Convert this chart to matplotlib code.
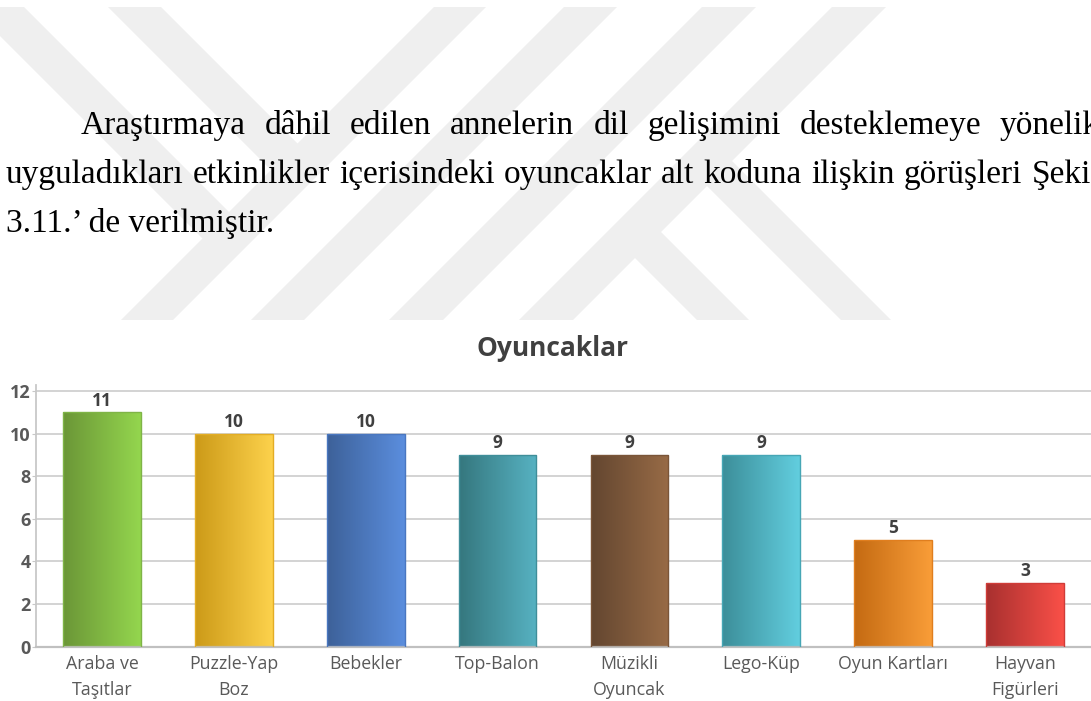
import numpy as np
import matplotlib.pyplot as plt
from matplotlib.patches import Polygon
from matplotlib.colors import LinearSegmentedColormap

W, H = 1091, 701

# --- data ---
categories = ["Araba ve\nTaşıtlar", "Puzzle-Yap\nBoz", "Bebekler", "Top-Balon",
              "Müzikli\nOyuncak", "Lego-Küp", "Oyun Kartları", "Hayvan\nFigürleri"]
values = [11, 10, 10, 9, 9, 9, 5, 3]
yticks = [0, 2, 4, 6, 8, 10, 12]
title = "Oyuncaklar"

paragraph = [
    "Araştırmaya dâhil edilen annelerin dil gelişimini desteklemeye yönelik",
    "uyguladıkları etkinlikler içerisindeki oyuncaklar alt koduna ilişkin görüşleri Şekil",
    "3.11.’ de verilmiştir.",
]

# gradient colours of the bars (left -> right) and their outlines
left_colors = ["#6b9637", "#cc9a18", "#3d6199", "#35777e", "#634630", "#3c8e99", "#c46a12", "#a8302f"]
right_colors = ["#94d64e", "#fdd24c", "#5b8ede", "#57b2c2", "#986b46", "#62cedf", "#f99d38", "#fa5048"]
edge_colors = ["#7fb447", "#e3ad24", "#4a77c0", "#3f8e99", "#7a5538", "#46a6b5", "#e07e1e", "#d03c38"]

fig = plt.figure(figsize=(W / 100, H / 100), dpi=100)

# --- background: watermark + paragraph (pixel coordinates) ---
bg = fig.add_axes([0, 0, 1, 1])
bg.set_xlim(0, W)
bg.set_ylim(H, 0)
bg.axis('off')

wm_color = '#efefef'
y_top, y_bot = 7, 320
c_mid, f_mid = 467, 866   # x+y of the lines where the short bands stop / start
# down-left bands (x+y between d1 and d2), full height
for d1, d2 in [(441, 493), (571, 624), (709, 763), (839, 893)]:
    bg.add_patch(Polygon([(d1 - y_top, y_top), (d2 - y_top, y_top),
                          (d2 - y_bot, y_bot), (d1 - y_bot, y_bot)],
                         closed=True, fc=wm_color, ec='none', zorder=0))
# down-right bands from the top, ending on the first down-left band
for c1, c2 in [(-36, 17), (101, 154)]:
    bg.add_patch(Polygon([(c1 + y_top, y_top), (c2 + y_top, y_top),
                          ((c2 + c_mid) / 2, (c_mid - c2) / 2),
                          ((c1 + c_mid) / 2, (c_mid - c1) / 2)],
                         closed=True, fc=wm_color, ec='none', zorder=0))
# down-right bands starting on the last down-left band, to the bottom
for c1, c2 in [(377, 429), (521, 571)]:
    bg.add_patch(Polygon([((c1 + f_mid) / 2, (f_mid - c1) / 2),
                          ((c2 + f_mid) / 2, (f_mid - c2) / 2),
                          (c2 + y_bot, y_bot), (c1 + y_bot, y_bot)],
                         closed=True, fc=wm_color, ec='none', zorder=0))

# justified paragraph (the page is cropped at the right edge, as in the scan)
body = dict(family='Liberation Serif', size=24, color='black', va='baseline')
fig.canvas.draw()
rend = fig.canvas.get_renderer()


def word_width(w):
    t = bg.text(0, 0, w, **body)
    wd = t.get_window_extent(renderer=rend).width
    t.remove()
    return wd


lines = [(paragraph[0], 81, 1100, 134),
         (paragraph[1], 6, 1100, 183),
         (paragraph[2], 6, None, 232)]
for txt, x0, x1, yb in lines:
    if x1 is None:
        bg.text(x0, yb, txt, **body)
        continue
    words = txt.split()
    widths = [word_width(w) for w in words]
    gap = (x1 - x0 - sum(widths)) / (len(words) - 1)
    x = x0
    for w, wd in zip(words, widths):
        bg.text(x, yb, w, **body)
        x += wd + gap

# --- chart ---
plt.rcParams['font.family'] = ['Open Sans', 'DejaVu Sans']
ax_left, ax_right = 36, 1091
ax_top, ax_bottom = 384.6, 646.7
ax = fig.add_axes([ax_left / W, 1 - ax_bottom / H,
                   (ax_right - ax_left) / W, (ax_bottom - ax_top) / H])
ax.set_facecolor('none')

xpos = np.arange(len(categories))
bars = ax.bar(xpos, values, width=0.59, facecolor='none', edgecolor=edge_colors,
              linewidth=1.0, zorder=3)
grad = np.linspace(0, 1, 256).reshape(1, -1)
for b, lc, rc in zip(bars, left_colors, right_colors):
    cmap = LinearSegmentedColormap.from_list('g', [lc, rc])
    bx, by = b.get_x(), b.get_y()
    im = ax.imshow(grad, cmap=cmap, aspect='auto', interpolation='bilinear',
                   extent=[bx, bx + b.get_width(), by, by + b.get_height()], zorder=2)
    im.set_clip_path(b)

ax.bar_label(bars, padding=2, fontsize=12.5, fontweight='bold', color='#404040')

ax.set_xlim(-0.5, len(categories) - 0.5)
ax.set_ylim(0, 12.3)
ax.set_yticks(yticks)
ax.set_xticks(xpos)
ax.set_xticklabels(categories, fontsize=12.8, color='#595959', linespacing=1.55)
ax.set_yticklabels([str(v) for v in yticks], fontsize=13, fontweight='bold', color='#595959')

ax.yaxis.grid(True, color='#d0d0d0', linewidth=1.3)
ax.set_axisbelow(True)
for s in ['top', 'right']:
    ax.spines[s].set_visible(False)
ax.spines['left'].set_color('#c8c8c8')
ax.spines['left'].set_linewidth(1.3)
ax.spines['bottom'].set_color('#c0c0c0')
ax.spines['bottom'].set_linewidth(1.6)
ax.tick_params(axis='y', length=3, color='#c8c8c8', pad=1)
ax.tick_params(axis='x', length=0, pad=6)

fig.text(552 / W, 1 - 349 / H, title, ha='center', va='center', fontsize=19,
         fontweight='bold', color='#404040')

fig.savefig('out.png', dpi=100, facecolor='white')
